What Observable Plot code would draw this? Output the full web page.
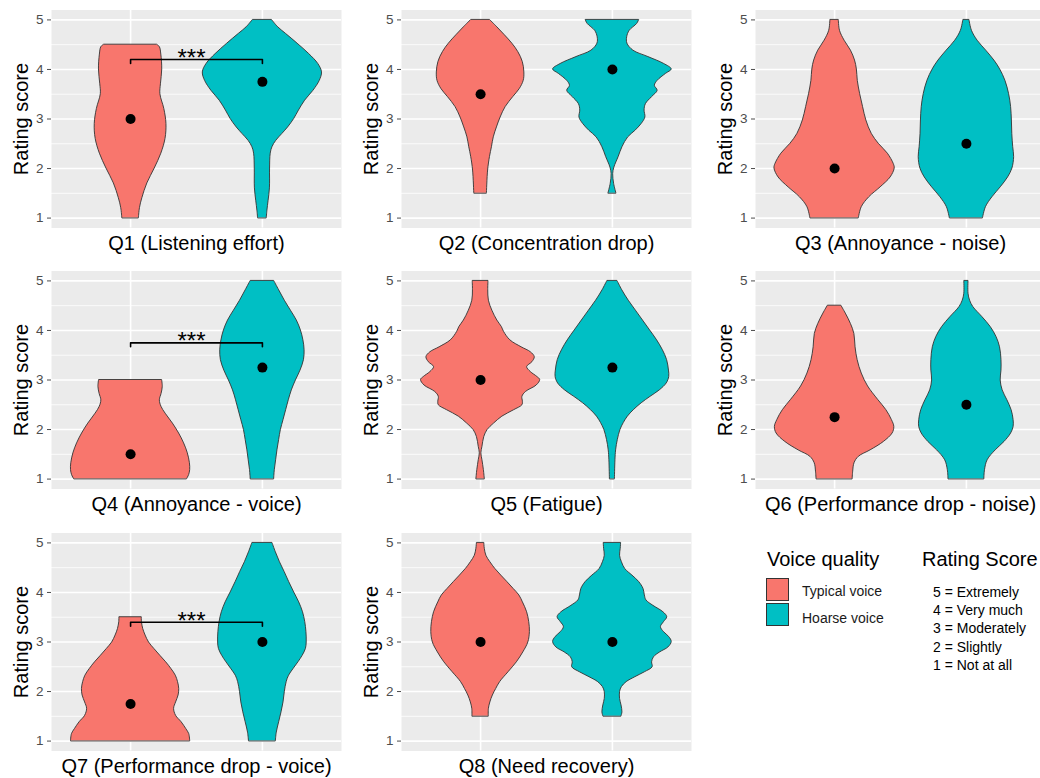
<!DOCTYPE html>
<html>
<head>
<meta charset="utf-8">
<script src="https://cdn.jsdelivr.net/npm/d3@7"></script>
<script src="https://cdn.jsdelivr.net/npm/@observablehq/plot@0.6"></script>
<style>
  html, body { margin: 0; padding: 0; background: #fff; }
  body { width: 1040px; height: 778px; overflow: hidden; font-family: "Liberation Sans", Arial, sans-serif; }
  #wrap { position: relative; width: 1040px; height: 778px; overflow: hidden; }
  .panel { position: absolute; }
  .legend-title { position: absolute; font-size: 20px; line-height: 20px; color: #000; white-space: nowrap; }
  .legend-key { position: absolute; width: 23px; height: 23px; border: 1px solid #333; box-sizing: border-box; }
  .legend-label { position: absolute; font-size: 14px; line-height: 14px; color: #1a1a1a; white-space: nowrap; }
  .rating-list { position: absolute; font-size: 14px; line-height: 18.3px; color: #000; white-space: nowrap; }
</style>
</head>
<body>
<div id="wrap"></div>
<script>
// ---------- data ----------
const groups = ["Typical voice", "Hoarse voice"];
const groupColors = ["#F8766D", "#00BFC4"];
const questions = [
  "Q1 (Listening effort)", "Q2 (Concentration drop)", "Q3 (Annoyance - noise)",
  "Q4 (Annoyance - voice)", "Q5 (Fatigue)", "Q6 (Performance drop - noise)",
  "Q7 (Performance drop - voice)", "Q8 (Need recovery)"
];
const yTitle = "Rating score";
const yTicks = [1, 2, 3, 4, 5];
const yTickLabels = ["1", "2", "3", "4", "5"];
const yMinorTicks = [1.5, 2.5, 3.5, 4.5];
const medianTypical = [3, 3.5, 2, 1.5, 3, 2.25, 1.75, 3];
const medianHoarse  = [3.75, 4, 2.5, 3.25, 3.25, 2.5, 3, 3];
const sigQuestions = ["Q1 (Listening effort)", "Q4 (Annoyance - voice)", "Q7 (Performance drop - voice)"];
const sigLevels = [4.2, 3.75, 3.4];
const sigLabels = ["***", "***", "***"];
const ratingTitle = "Rating Score";
const ratingLabels = ["5 = Extremely", "4 = Very much", "3 = Moderately", "2 = Slightly", "1 = Not at all"];
const legendTitle = "Voice quality";

// violin outlines: [rating, half-width of the violin]
const q1Typical = [[1.0,.063],[1.2,.071],[1.4,.089],[1.7,.127],[2.0,.183],[2.3,.233],[2.6,.265],[2.9,.272],[3.2,.256],[3.5,.226],[3.7,.23],[4.0,.24],[4.3,.233],[4.45,.222],[4.5,.20]];
const q1Hoarse = [[1.0,.033],[1.15,.038],[1.35,.047],[1.6,.057],[2.0,.058],[2.3,.063],[2.43,.076],[2.56,.105],[2.7,.152],[2.83,.195],[3.0,.241],[3.17,.277],[3.37,.324],[3.57,.387],[3.77,.435],[3.94,.452],[4.11,.424],[4.31,.355],[4.52,.267],[4.72,.178],[4.85,.12],[5.0,.072]];
const q2Typical = [[1.5,.048],[1.96,.057],[2.23,.071],[2.43,.086],[2.63,.10],[2.83,.124],[3.03,.152],[3.24,.19],[3.44,.247],[3.6,.296],[3.77,.327],[3.94,.332],[4.15,.32],[4.35,.286],[4.52,.241],[4.69,.184],[4.85,.127],[5.0,.071]];
const q2Hoarse = [[1.5,.03],[1.69,.013],[1.89,.006],[2.02,.015],[2.23,.047],[2.43,.076],[2.63,.12],[2.76,.174],[2.9,.222],[3.03,.25],[3.17,.244],[3.3,.254],[3.44,.30],[3.57,.343],[3.67,.322],[3.77,.343],[3.91,.406],[4.0,.45],[4.11,.393],[4.25,.273],[4.38,.159],[4.52,.114],[4.65,.112],[4.78,.131],[4.92,.188],[5.0,.203]];
const q3Typical = [[1.0,.184],[1.22,.206],[1.42,.263],[1.62,.349],[1.82,.425],[2.0,.456],[2.09,.449],[2.3,.404],[2.5,.335],[2.7,.282],[2.97,.241],[3.24,.216],[3.5,.194],[3.77,.176],[4.0,.169],[4.18,.155],[4.38,.124],[4.58,.076],[4.78,.041],[5.0,.032]];
const q3Hoarse = [[1.0,.126],[1.22,.148],[1.42,.197],[1.62,.26],[1.82,.316],[2.0,.349],[2.23,.362],[2.43,.355],[2.7,.348],[2.97,.345],[3.24,.339],[3.5,.324],[3.77,.296],[4.0,.256],[4.18,.212],[4.38,.15],[4.58,.085],[4.78,.042],[5.0,.023]];
const q4Typical = [[1.0,.429],[1.08,.444],[1.18,.452],[1.32,.45],[1.52,.434],[1.72,.406],[1.92,.368],[2.12,.321],[2.32,.266],[2.46,.234],[2.59,.222],[2.72,.235],[2.86,.244],[3.0,.239]];
const q4Hoarse = [[1.0,.089],[1.18,.094],[1.38,.104],[1.58,.114],[1.79,.127],[1.99,.14],[2.19,.16],[2.39,.18],[2.59,.20],[2.79,.223],[2.99,.254],[3.19,.289],[3.4,.315],[3.6,.32],[3.8,.311],[4.0,.292],[4.2,.261],[4.4,.216],[4.6,.17],[4.81,.127],[5.0,.089]];
const q5Typical = [[1.0,.032],[1.18,.025],[1.38,.014],[1.52,.006],[1.65,.014],[1.85,.028],[1.99,.053],[2.12,.102],[2.26,.165],[2.39,.254],[2.49,.317],[2.56,.321],[2.66,.317],[2.76,.345],[2.89,.426],[3.0,.452],[3.06,.431],[3.16,.381],[3.26,.353],[3.36,.393],[3.46,.411],[3.56,.381],[3.66,.311],[3.8,.226],[3.97,.178],[4.07,.161],[4.2,.127],[4.4,.089],[4.6,.063],[4.81,.058],[5.0,.06]];
const q5Hoarse = [[1.0,.019],[1.38,.023],[1.58,.028],[1.79,.041],[1.99,.061],[2.13,.086],[2.26,.117],[2.39,.162],[2.53,.222],[2.66,.289],[2.79,.359],[2.93,.412],[3.06,.431],[3.19,.429],[3.4,.415],[3.6,.383],[3.8,.339],[4.0,.286],[4.2,.232],[4.4,.178],[4.6,.124],[4.81,.075],[5.0,.038]];
const q6Typical = [[1.0,.137],[1.15,.141],[1.32,.151],[1.45,.184],[1.58,.273],[1.75,.374],[1.92,.44],[2.05,.453],[2.19,.435],[2.39,.393],[2.6,.33],[2.87,.254],[3.13,.206],[3.4,.175],[3.66,.159],[3.93,.15],[4.13,.124],[4.34,.085],[4.5,.051]];
const q6Hoarse = [[1.0,.136],[1.18,.141],[1.38,.161],[1.58,.222],[1.75,.289],[1.92,.339],[2.05,.358],[2.19,.358],[2.39,.343],[2.59,.311],[2.79,.275],[2.99,.26],[3.19,.266],[3.4,.266],[3.66,.255],[3.87,.228],[4.07,.184],[4.27,.121],[4.47,.053],[4.6,.028],[4.74,.016],[5.0,.016]];
const q7Typical = [[1.0,.452],[1.14,.445],[1.24,.423],[1.38,.387],[1.51,.345],[1.65,.33],[1.78,.345],[1.92,.364],[2.05,.369],[2.19,.36],[2.32,.343],[2.45,.311],[2.59,.27],[2.72,.226],[2.86,.18],[2.99,.14],[3.13,.114],[3.26,.096],[3.4,.086],[3.5,.085]];
const q7Hoarse = [[1.0,.102],[1.17,.109],[1.38,.127],[1.58,.145],[1.78,.16],[1.99,.17],[2.19,.184],[2.32,.202],[2.45,.235],[2.59,.273],[2.72,.305],[2.86,.33],[2.99,.336],[3.2,.334],[3.4,.325],[3.6,.308],[3.8,.279],[4.0,.241],[4.21,.203],[4.41,.169],[4.61,.133],[4.81,.102],[5.0,.076]];
const q8Typical = [[1.5,.062],[1.65,.063],[1.78,.074],[1.92,.093],[2.05,.118],[2.19,.148],[2.39,.212],[2.59,.275],[2.79,.324],[2.99,.362],[3.2,.374],[3.4,.369],[3.6,.353],[3.8,.321],[3.94,.294],[4.07,.251],[4.21,.203],[4.34,.157],[4.47,.113],[4.61,.074],[4.74,.044],[4.88,.032],[5.0,.028]];
const q8Hoarse = [[1.5,.069],[1.58,.076],[1.72,.069],[1.85,.058],[1.99,.058],[2.09,.072],[2.19,.108],[2.29,.174],[2.39,.247],[2.49,.305],[2.59,.301],[2.69,.315],[2.79,.362],[2.89,.425],[3.0,.45],[3.1,.431],[3.2,.391],[3.3,.368],[3.4,.391],[3.5,.416],[3.6,.387],[3.73,.311],[3.84,.258],[3.94,.246],[4.07,.236],[4.21,.203],[4.34,.152],[4.47,.098],[4.61,.072],[4.74,.058],[4.88,.063],[5.0,.066]];

const violinsTypical = [q1Typical, q2Typical, q3Typical, q4Typical, q5Typical, q6Typical, q7Typical, q8Typical];
const violinsHoarse  = [q1Hoarse, q2Hoarse, q3Hoarse, q4Hoarse, q5Hoarse, q6Hoarse, q7Hoarse, q8Hoarse];

// ---------- layout ----------
const FONT = '"Liberation Sans", Arial, sans-serif';
const colLeft = [0, 350, 704];
const rowTop = [0, 261, 523];
const wrap = document.getElementById("wrap");

questions.forEach((q, i) => {
  const rows = [];
  violinsTypical[i].forEach(([v, w]) => rows.push({g: 1, group: groups[0], v, w}));
  violinsHoarse[i].forEach(([v, w]) => rows.push({g: 2, group: groups[1], v, w}));
  const meds = [
    {g: 1, v: medianTypical[i]},
    {g: 2, v: medianHoarse[i]}
  ];
  const si = sigQuestions.indexOf(q);
  const marks = [
    Plot.frame({fill: "#EBEBEB", stroke: "none"}),
    Plot.gridY(yMinorTicks, {stroke: "#fff", strokeOpacity: 1, strokeWidth: 0.8}),
    Plot.gridY(yTicks, {stroke: "#fff", strokeOpacity: 1, strokeWidth: 1.6}),
    Plot.gridX([1, 2], {stroke: "#fff", strokeOpacity: 1, strokeWidth: 1.6}),
    Plot.axisY(yTicks, {tickSize: 4, tickPadding: 4, fontSize: 13.5, color: "#4D4D4D", label: null,
      tickFormat: d => yTickLabels[yTicks.indexOf(d)]}),
    Plot.areaX(rows, {
      y: "v", x1: d => d.g - d.w, x2: d => d.g + d.w, z: "g",
      fill: "group", stroke: "#333", strokeWidth: 0.9, curve: "catmull-rom"
    }),
    Plot.dot(meds, {x: "g", y: "v", r: 5, fill: "#000", stroke: "none"}),
    Plot.text([q], {text: d => d, frameAnchor: "bottom", lineAnchor: "middle", textAnchor: "middle", dy: 16, fontSize: 20, fill: "#000"}),
    Plot.text([yTitle], {text: d => d, frameAnchor: "left", lineAnchor: "middle", textAnchor: "middle", dx: -29.5, rotate: -90, fontSize: 20, fill: "#000"})
  ];
  if (si >= 0) {
    const s = sigLevels[si];
    const bracket = [{x: 1, y: s - 0.08}, {x: 1, y: s}, {x: 2, y: s}, {x: 2, y: s - 0.08}];
    marks.push(Plot.line(bracket, {x: "x", y: "y", stroke: "#000", strokeWidth: 1.6}));
    marks.push(Plot.text([{x: 1.5, y: s, t: sigLabels[si]}], {x: "x", y: "y", text: "t", lineAnchor: "bottom", dy: 6.4, dx: -5, fontSize: 24, fill: "#000"}));
  }
  const chart = Plot.plot({
    width: 345, height: 260,
    marginLeft: 51, marginRight: 4, marginTop: 9.5, marginBottom: 32.5,
    x: {domain: [0.4, 2.6], axis: null},
    y: {domain: [0.8, 5.2]},
    color: {domain: groups, range: groupColors},
    style: {fontFamily: FONT, background: "transparent", color: "#000"},
    marks
  });
  chart.classList.add("panel");
  chart.style.left = colLeft[i % 3] + "px";
  chart.style.top = rowTop[Math.floor(i / 3)] + "px";
  wrap.appendChild(chart);
});

// ---------- legend ----------
function addDiv(cls, text, left, top, extra) {
  const d = document.createElement("div");
  d.className = cls;
  if (text != null) d.textContent = text;
  d.style.left = left + "px";
  d.style.top = top + "px";
  if (extra) Object.assign(d.style, extra);
  wrap.appendChild(d);
  return d;
}
addDiv("legend-title", legendTitle, 767, 549);
groups.forEach((g, k) => {
  addDiv("legend-key", null, 766, 578 + k * 25, {background: groupColors[k]});
  addDiv("legend-label", g, 802, 584 + k * 26.5);
});
addDiv("legend-title", ratingTitle, 922, 549);
const list = addDiv("rating-list", null, 933, 582.7);
ratingLabels.forEach(t => {
  const line = document.createElement("div");
  line.textContent = t;
  list.appendChild(line);
});
</script>
</body>
</html>
